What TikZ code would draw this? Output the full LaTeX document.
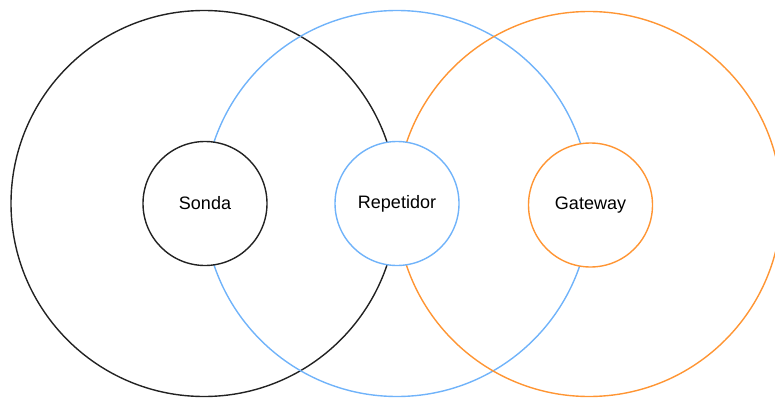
\documentclass[tikz,border=0pt]{standalone}
\usepackage{fontspec}
\setmainfont{Liberation Sans}
\definecolor{rangeblack}{HTML}{222222}
\definecolor{rangeblue}{HTML}{70B3FA}
\definecolor{rangeorange}{HTML}{FF9533}
\begin{document}
\begin{tikzpicture}[x=1pt,y=-1pt,
  range/.style={circle,draw,line width=1.4pt,inner sep=0pt,minimum size=#1},
  device/.style={circle,draw,fill=white,line width=1.4pt,inner sep=0pt,minimum size=124pt,
    font=\fontsize{18}{20}\selectfont,text=black}]
  \useasboundingbox (0,0) rectangle (775,398);
  \begin{scope}
    \clip (0,0) rectangle (775,398);
    % coverage ranges
    \node[range=386pt,draw=rangeblack]  (rsonda) at (204,203.5) {};
    \node[range=386pt,draw=rangeblue]   (rrep)   at (397,203.5) {};
    \node[range=385pt,draw=rangeorange] (rgate)  at (589,204) {};
  \end{scope}
  % devices
  \node[device,draw=rangeblack]  (sonda) at (205,203.5) {Sonda};
  \node[device,draw=rangeblue]   (rep)   at (397,203.5) {Repetidor};
  \node[device,draw=rangeorange] (gate)  at (590.5,205) {Gateway};
\end{tikzpicture}
\end{document}
